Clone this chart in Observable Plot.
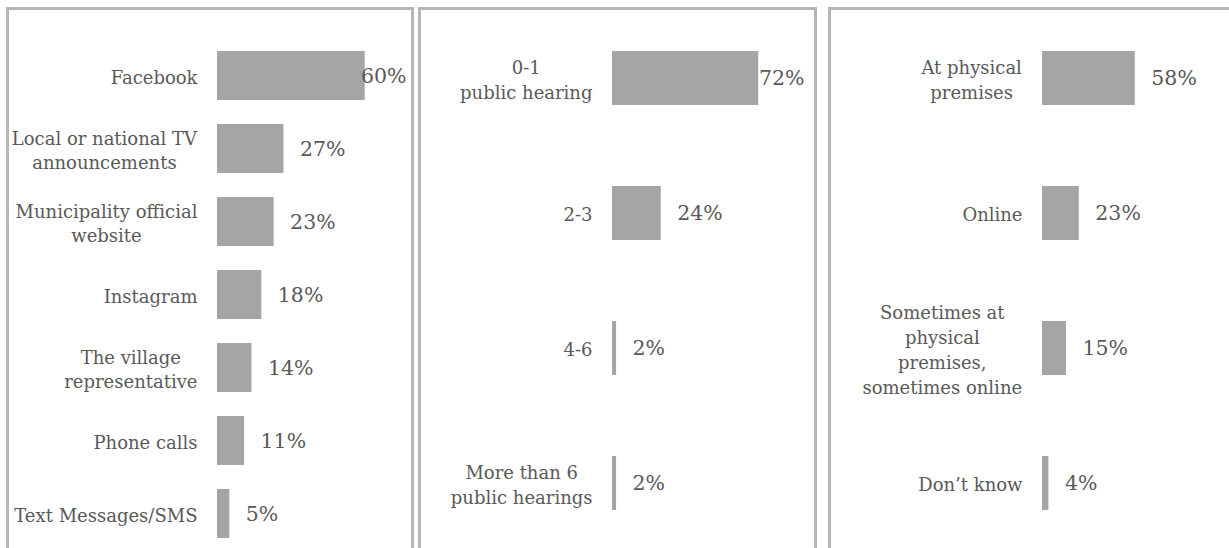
<!DOCTYPE html>
<html><head><meta charset="utf-8">
<script src="https://cdn.jsdelivr.net/npm/d3@7"></script>
<script src="https://cdn.jsdelivr.net/npm/@observablehq/plot@0.6"></script>
<style>
html,body{margin:0;padding:0;background:#fff}
body{width:1229px;height:548px;overflow:hidden;position:relative}
.panel{position:absolute;top:7px;height:600px;border:3px solid #b5b5b5;border-bottom:none;box-sizing:border-box}
.chart{position:absolute;top:0}
</style></head><body>
<script>
// ---- data ----
const channels = ["Facebook", "Local or national TV\nannouncements", "Municipality official\nwebsite", "Instagram", "The village\nrepresentative", "Phone calls", "Text Messages/SMS"];
const channelShares = [60, 27, 23, 18, 14, 11, 5];

const hearings = ["0-1\npublic hearing", "2-3", "4-6", "More than 6\npublic hearings"];
const hearingShares = [72, 24, 2, 2];

const venues = ["At physical\npremises", "Online", "Sometimes at\nphysical\npremises,\nsometimes online", "Don’t know"];
const venueShares = [58, 23, 15, 4];

// ---- layout ----
const FONT = "'DejaVu Serif', serif";
const panels = [
  {cats: channels, vals: channelShares, left: 8, width: 403, mL: 209, mR: 2, xMax: 78, mT: 49, mB: 9, pad: 0.333, box: {left: 6, width: 408}},
  {cats: hearings, vals: hearingShares, left: 420, width: 395, mL: 192, mR: 8, xMax: 96, mT: 50, mB: 37, pad: 0.6, box: {left: 418, width: 399}},
  {cats: venues, vals: venueShares, left: 830, width: 399, mL: 212, mR: 27, xMax: 100, mT: 50, mB: 37, pad: 0.6, box: {left: 828, width: 420}}
];

for (const p of panels) {
  const box = document.createElement("div");
  box.className = "panel";
  box.style.left = p.box.left + "px";
  box.style.width = p.box.width + "px";
  document.body.appendChild(box);

  const data = p.cats.map((c, i) => ({cat: c, value: p.vals[i], label: p.vals[i] + "%"}));
  const inside = d => d.value / p.xMax > 0.7;

  const chart = Plot.plot({
    width: p.width,
    height: 548,
    marginLeft: p.mL,
    marginRight: p.mR,
    marginTop: p.mT,
    marginBottom: p.mB,
    style: {fontFamily: FONT, background: "transparent", overflow: "visible"},
    x: {domain: [0, p.xMax], axis: null},
    y: {domain: p.cats, axis: null, paddingInner: p.pad, paddingOuter: 0},
    marks: [
      Plot.barX(data, {x: "value", y: "cat", fill: "#a5a5a5"}),
      Plot.text(data, {y: "cat", text: "cat", frameAnchor: "left", textAnchor: "end", dx: -20,
        fill: "#595959", fontSize: 18, lineHeight: 1.38, ariaDescription: "category"}),
      Plot.text(data.filter(d => !inside(d)), {x: "value", y: "cat", text: "label", textAnchor: "start", dx: 16,
        fill: "#595959", fontSize: 20.5}),
      Plot.text(data.filter(inside), {x: () => p.xMax, y: "cat", text: "label", textAnchor: "end", dx: -3,
        fill: "#595959", fontSize: 20.5})
    ]
  });
  chart.classList.add("chart");
  chart.style.left = p.left + "px";
  document.body.appendChild(chart);

  // centre multi-line category labels on their own block, as in the reference
  chart.querySelectorAll('g[aria-description="category"] text').forEach(t => {
    const spans = t.querySelectorAll("tspan");
    if (spans.length < 2) return;
    const w = t.getBBox().width;
    t.setAttribute("text-anchor", "middle");
    spans.forEach(s => s.setAttribute("x", -w / 2));
  });
}
</script>
</body></html>
